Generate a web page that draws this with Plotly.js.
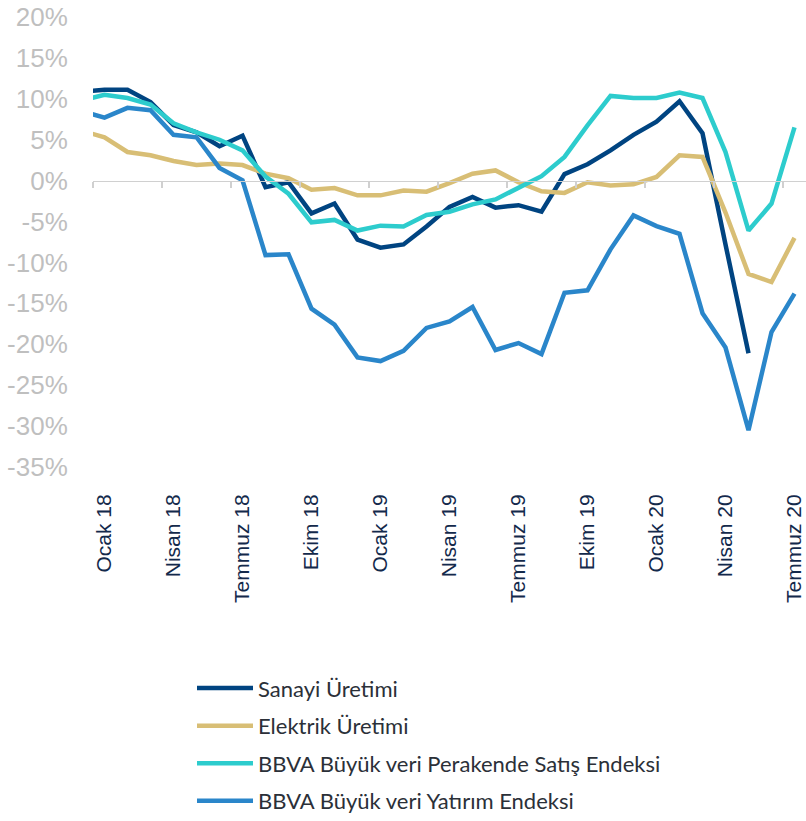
<!DOCTYPE html>
<html>
<head>
<meta charset="utf-8">
<script src="https://cdn.plot.ly/plotly-3.0.1.min.js"></script>
<style>html,body{margin:0;padding:0;background:#fff;}#chart{width:806px;height:821px;}</style>
</head>
<body>
<div id="chart"></div>
<script>
// Months from Aralık 17 (index -1) to Temmuz 20 (index 30)
const months = ["Aralık 17","Ocak 18","Şubat 18","Mart 18","Nisan 18","Mayıs 18","Haziran 18","Temmuz 18","Ağustos 18","Eylül 18","Ekim 18","Kasım 18","Aralık 18",
  "Ocak 19","Şubat 19","Mart 19","Nisan 19","Mayıs 19","Haziran 19","Temmuz 19","Ağustos 19","Eylül 19","Ekim 19","Kasım 19","Aralık 19",
  "Ocak 20","Şubat 20","Mart 20","Nisan 20","Mayıs 20","Haziran 20","Temmuz 20"];
const tickLabels = ["Ocak 18","Nisan 18","Temmuz 18","Ekim 18","Ocak 19","Nisan 19","Temmuz 19","Ekim 19","Ocak 20","Nisan 20","Temmuz 20"];
const yTickValues = [-35,-30,-25,-20,-15,-10,-5,0,5,10,15,20];

const sanayi = [10.9,11.1,11.1,9.6,6.8,5.9,4.2,5.5,-0.8,-0.2,-4.0,-2.8,-7.2,-8.2,-7.8,-5.6,-3.2,-2.0,-3.3,-3.0,-3.8,0.8,2.0,3.7,5.6,7.2,9.7,5.8,-7.8,-21.1,null,null];
const elektrik = [6.1,5.3,3.5,3.1,2.4,1.9,2.1,1.9,0.85,0.3,-1.1,-0.9,-1.8,-1.8,-1.2,-1.35,-0.3,0.85,1.25,-0.2,-1.3,-1.5,-0.2,-0.6,-0.45,0.45,3.1,2.9,-3.9,-11.4,-12.4,-7.0];
const perakende = [9.8,10.5,10.1,9.3,7.0,5.9,5.0,3.7,0.5,-1.6,-5.1,-4.8,-6.1,-5.5,-5.6,-4.2,-3.8,-2.9,-2.3,-0.8,0.55,2.9,6.75,10.35,10.1,10.1,10.75,10.1,3.5,-6.1,-2.8,6.5];
const yatirim = [8.5,7.7,8.9,8.6,5.6,5.3,1.55,0.05,-9.1,-9.0,-15.65,-17.6,-21.6,-22.05,-20.8,-18.0,-17.2,-15.45,-20.7,-19.85,-21.2,-13.7,-13.4,-8.4,-4.25,-5.55,-6.5,-16.2,-20.4,-30.5,-18.5,-13.8];

const seriesNames = ["Sanayi Üretimi","Elektrik Üretimi","BBVA Büyük veri Perakende Satış Endeksi","BBVA Büyük veri Yatırım Endeksi"];
const seriesColors = ["#004481","#D8BE75","#2DCCCD","#2A86CA"];
const seriesData = [sanayi, elektrik, perakende, yatirim];

const x = months.map((m, i) => i - 1);
const tickvals = tickLabels.map(l => months.indexOf(l) - 1);
const boundaryTicks = tickvals.map(v => v - 0.5);

const traces = seriesData.map((d, k) => ({
  type: "scatter", mode: "lines", x: x, y: d, name: seriesNames[k],
  legendgroup: "g" + k,
  line: {color: seriesColors[k], width: 4.5, shape: "linear"},
  connectgaps: false, hoverinfo: "skip"
}));
// invisible trace to carry the boundary tick axis
traces.push({type: "scatter", mode: "none", x: [-0.5, 30.5], y: [0, 0], xaxis: "x2", showlegend: false, hoverinfo: "skip"});

const layout = {
  width: 806, height: 821,
  margin: {l: 93, r: 0, t: 17, b: 354, autoexpand: false},
  paper_bgcolor: "#fff", plot_bgcolor: "#fff",
  showlegend: true,
  font: {family: "Liberation Sans, Arial, sans-serif"},
  xaxis: {
    type: "linear", range: [-0.5, 30.5], showgrid: false, zeroline: false, showline: false,
    tickmode: "array", tickvals: tickvals, ticktext: tickLabels, tickangle: -90,
    ticks: "outside", ticklen: 18, tickcolor: "rgba(0,0,0,0)",
    tickfont: {family: "Liberation Sans, Arial, sans-serif", size: 21, color: "#13294B"}
  },
  xaxis2: {
    type: "linear", range: [-0.5, 30.5], overlaying: "x", anchor: "free", position: 35/55, side: "bottom",
    showgrid: false, zeroline: false, showline: true, linecolor: "#D0D0D0", linewidth: 1.3,
    tickmode: "array", tickvals: boundaryTicks, showticklabels: false,
    ticks: "outside", ticklen: 6, tickcolor: "#D0D0D0", tickwidth: 1.3
  },
  yaxis: {
    range: [-35, 20], showgrid: false, zeroline: false, showline: false,
    tickmode: "array", tickvals: yTickValues, ticktext: yTickValues.map(v => v + "%"),
    ticks: "outside", ticklen: 19, tickcolor: "rgba(0,0,0,0)",
    tickfont: {family: "Liberation Sans, Arial, sans-serif", size: 26, color: "#BFBFBF"}
  },
  legend: {
    x: (192 - 93) / 713, xanchor: "left", y: -0.445, yanchor: "top",
    orientation: "v", traceorder: "grouped", tracegroupgap: 6, itemwidth: 56,
    font: {family: "Lato, Noto Sans, sans-serif", size: 22, color: "#2B3038"},
    bgcolor: "rgba(0,0,0,0)", borderwidth: 0
  }
};

Plotly.newPlot("chart", traces, layout, {displayModeBar: false, staticPlot: true});
</script>
</body>
</html>
